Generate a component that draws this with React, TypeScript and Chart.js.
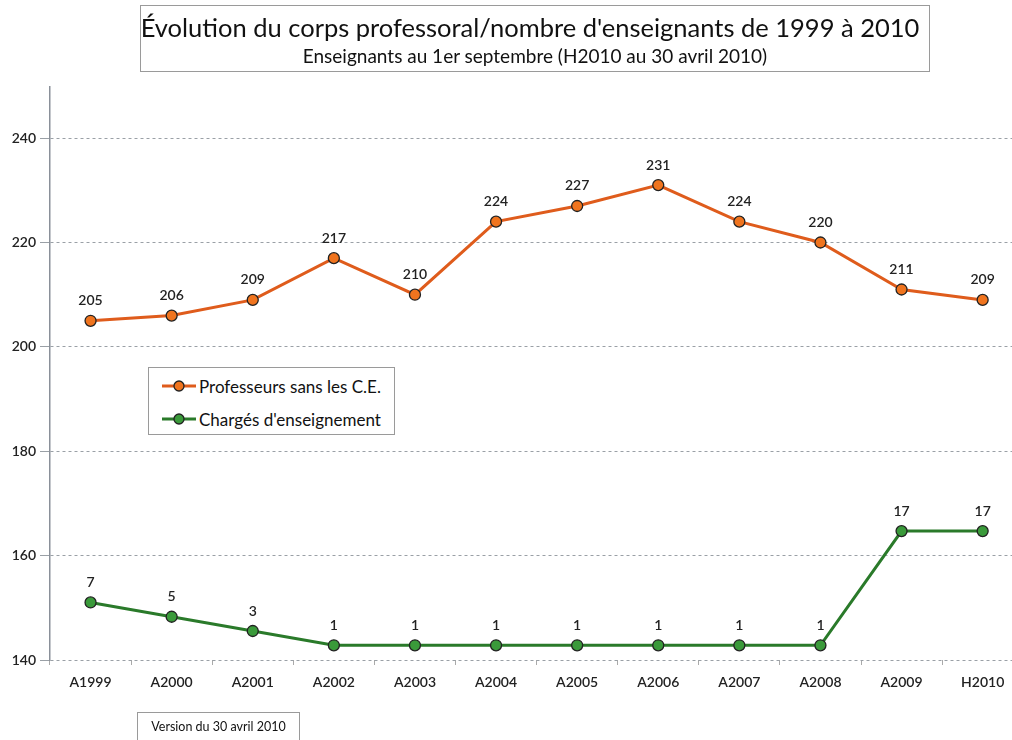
import React, { useEffect, useRef } from "react";
import { Chart, registerables } from "chart.js";

Chart.register(...registerables);

const categories = ["A1999", "A2000", "A2001", "A2002", "A2003", "A2004", "A2005", "A2006", "A2007", "A2008", "A2009", "H2010"];
const professeurs = [205, 206, 209, 217, 210, 224, 227, 231, 224, 220, 211, 209];
const charges = [7, 5, 3, 1, 1, 1, 1, 1, 1, 1, 17, 17];
const yTicks = [140, 160, 180, 200, 220, 240];

const titleText = "Évolution du corps professoral/nombre d'enseignants de 1999 à 2010";
const subtitleText = "Enseignants au 1er septembre (H2010 au 30 avril 2010)";
const seriesNames = ["Professeurs sans les C.E.", "Chargés d'enseignement"];
const versionText = "Version du 30 avril 2010";

const ORANGE_LINE = "#df5c1c";
const ORANGE_FILL = "#f0741e";
const GREEN_LINE = "#2a7a2a";
const GREEN_FILL = "#3a9a3a";
const FONT = "Lato, 'Open Sans', sans-serif";

const labelPlugin = {
  id: "pointLabels",
  afterDatasetsDraw(chart: any) {
    const ctx = chart.ctx;
    ctx.save();
    ctx.font = `600 14px ${FONT}`;
    ctx.fillStyle = "#222";
    ctx.textAlign = "center";
    ctx.textBaseline = "middle";
    chart.data.datasets.forEach((ds: any, i: number) => {
      const meta = chart.getDatasetMeta(i);
      meta.data.forEach((pt: any, j: number) => {
        ctx.fillText(String(ds.data[j]), pt.x, pt.y - 20);
      });
    });
    ctx.restore();
  },
};

function LegendMarker({ line, fill }: { line: string; fill: string }) {
  return (
    <svg width="34" height="14" style={{ marginRight: 3 }}>
      <line x1="0" y1="7" x2="34" y2="7" stroke={line} strokeWidth="3" />
      <circle cx="17" cy="7" r="5" fill={fill} stroke="#222" strokeWidth="1.3" />
    </svg>
  );
}

export default function App() {
  const canvasRef = useRef<HTMLCanvasElement | null>(null);

  useEffect(() => {
    if (!canvasRef.current) return;
    const chart = new Chart(canvasRef.current, {
      type: "line",
      data: {
        labels: categories,
        datasets: [
          {
            label: seriesNames[0],
            data: professeurs,
            borderColor: ORANGE_LINE,
            backgroundColor: ORANGE_FILL,
            pointBackgroundColor: ORANGE_FILL,
            pointBorderColor: "#222",
            pointBorderWidth: 1.3,
            pointRadius: 5.5,
            borderWidth: 3,
            yAxisID: "y",
          },
          {
            label: seriesNames[1],
            data: charges,
            borderColor: GREEN_LINE,
            backgroundColor: GREEN_FILL,
            pointBackgroundColor: GREEN_FILL,
            pointBorderColor: "#222",
            pointBorderWidth: 1.3,
            pointRadius: 5.5,
            borderWidth: 3,
            yAxisID: "y2",
          },
        ],
      },
      options: {
        responsive: false,
        animation: false,
        devicePixelRatio: 1,
        layout: { padding: { top: 87, right: 4, left: 0, bottom: 0 } },
        plugins: {
          legend: { display: false },
          title: { display: false },
          tooltip: { enabled: false },
        },
        scales: {
          x: {
            type: "category",
            offset: true,
            grid: {
              offset: true,
              drawOnChartArea: false,
              drawTicks: true,
              tickLength: 5,
              color: "#aaa",
            },
            border: { display: false },
            ticks: {
              color: "#222",
              font: { family: FONT, size: 14, weight: "600" as any },
              padding: 9,
              maxRotation: 0,
              autoSkip: false,
            },
            afterFit: (s: any) => {
              s.height = 80;
            },
          },
          y: {
            type: "linear",
            min: 140,
            max: 249.8,
            afterBuildTicks: (s: any) => {
              s.ticks = yTicks.map((v) => ({ value: v }));
            },
            grid: {
              color: "#9aa0a6",
              tickLength: 10,
              tickColor: "#9aa0a6",
              tickBorderDash: [],
              lineWidth: 1,
            },
            border: { display: true, color: "#8a9099", width: 1.5, dash: [3, 3] },
            ticks: {
              color: "#222",
              font: { family: FONT, size: 14, weight: "600" as any },
              padding: 4,
            },
            afterFit: (s: any) => {
              s.width = 50;
            },
          },
          y2: {
            type: "linear",
            display: false,
            min: -1.06,
            max: 79.2,
          },
        },
      },
      plugins: [labelPlugin],
    });
    return () => chart.destroy();
  }, []);

  return (
    <div
      style={{
        position: "fixed",
        left: 0,
        top: 0,
        width: 1012,
        height: 740,
        overflow: "hidden",
        background: "#fff",
        fontFamily: FONT,
      }}
    >
      <canvas
        ref={canvasRef}
        width={1030}
        height={740}
        style={{ position: "absolute", left: 0, top: 0, width: 1030, height: 740 }}
      />
      <div
        style={{
          position: "absolute",
          left: 140,
          top: 5,
          width: 790,
          height: 67,
          border: "1px solid #9a9a9a",
          boxSizing: "border-box",
          textAlign: "center",
          color: "#111",
        }}
      >
        <div style={{ fontSize: 25.5, lineHeight: "30px", marginTop: 6, marginLeft: -10, whiteSpace: "nowrap" }}>{titleText}</div>
        <div style={{ fontSize: 19, lineHeight: "22px", marginTop: 3, whiteSpace: "nowrap" }}>{subtitleText}</div>
      </div>
      <div
        style={{
          position: "absolute",
          left: 148,
          top: 367,
          width: 247,
          height: 68,
          border: "1px solid #9a9a9a",
          boxSizing: "border-box",
          background: "#fff",
          color: "#111",
          fontSize: 17,
          paddingLeft: 13,
          paddingTop: 6,
        }}
      >
        <div style={{ display: "flex", alignItems: "center", height: 24, whiteSpace: "nowrap" }}>
          <LegendMarker line={ORANGE_LINE} fill={ORANGE_FILL} />
          <span>{seriesNames[0]}</span>
        </div>
        <div style={{ display: "flex", alignItems: "center", height: 24, marginTop: 9, whiteSpace: "nowrap" }}>
          <LegendMarker line={GREEN_LINE} fill={GREEN_FILL} />
          <span>{seriesNames[1]}</span>
        </div>
      </div>
      <div
        style={{
          position: "absolute",
          left: 137,
          top: 712,
          width: 163,
          height: 40,
          border: "1px solid #9a9a9a",
          boxSizing: "border-box",
          color: "#111",
          fontSize: 12.5,
          textAlign: "center",
          paddingTop: 6,
          whiteSpace: "nowrap",
        }}
      >
        {versionText}
      </div>
    </div>
  );
}
